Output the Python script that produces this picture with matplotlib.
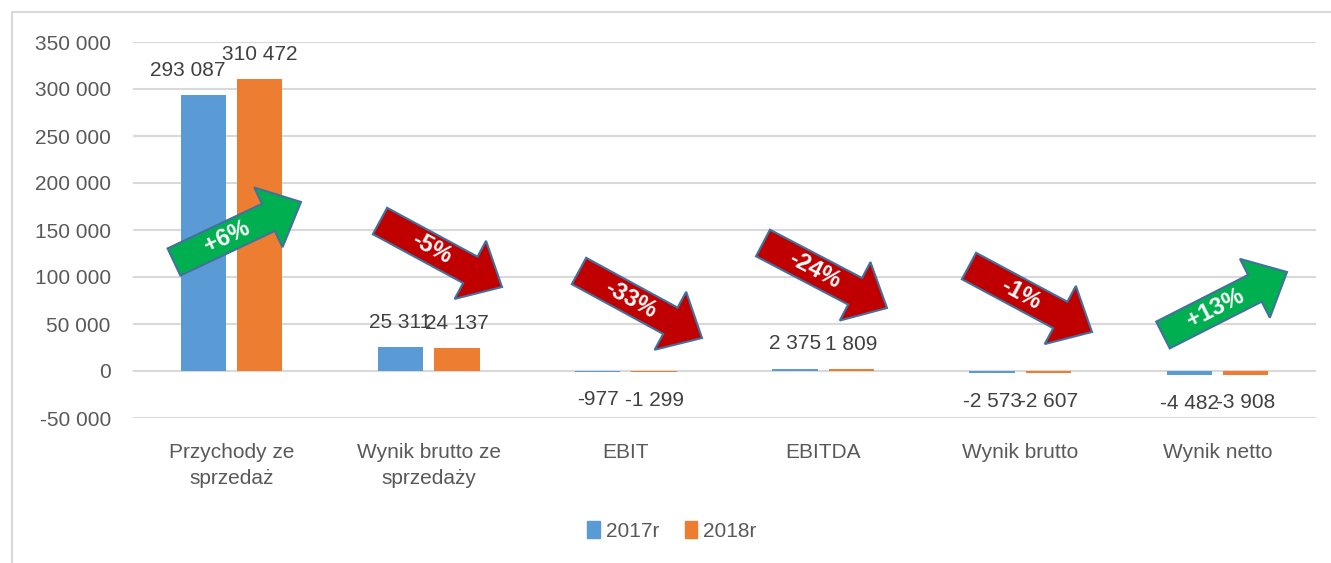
import math

import matplotlib
matplotlib.use("Agg")

import matplotlib.pyplot as plt
from matplotlib.patches import FancyArrow, Rectangle, Patch
from matplotlib.transforms import IdentityTransform

plt.rcParams["font.family"] = ["Liberation Sans", "DejaVu Sans"]

# Dane
kategorie = ["Przychody ze\nsprzedaż", "Wynik brutto ze\nsprzedaży", "EBIT",
             "EBITDA", "Wynik brutto", "Wynik netto"]
lata = ["2017r", "2018r"]
wart_2017 = [293087, 25311, -977, 2375, -2573, -4482]
wart_2018 = [310472, 24137, -1299, 1809, -2607, -3908]
zmiany = ["+6%", "-5%", "-33%", "-24%", "-1%", "+13%"]
y_ticks = [-50000, 0, 50000, 100000, 150000, 200000, 250000, 300000, 350000]

# Strzalki: (ogon x, ogon y, grot x, grot y) w pikselach obrazu (od gory)
strzalki = [
    (174, 262, 301, 202),
    (380, 221, 502, 287),
    (579, 271, 702, 338),
    (763, 243, 887, 308),
    (969, 266, 1092, 332),
    (1163, 335, 1287, 272),
]

W, H = 1331, 563
NIEBIESKI = "#5B9BD5"
POMARANCZ = "#ED7D31"


def fmt(v):
    return f"{v:,}".replace(",", " ")


fig = plt.figure(figsize=(W / 100, H / 100), dpi=100)
ax = fig.add_axes([133 / W, (H - 418) / H, 1183 / W, 376 / H])

x = list(range(len(kategorie)))
szer = 0.23
off = 0.143
b1 = ax.bar([i - off for i in x], wart_2017, szer, color=NIEBIESKI, zorder=2)
b2 = ax.bar([i + off for i in x], wart_2018, szer, color=POMARANCZ, zorder=2)

for seria, wart in ((b1, wart_2017), (b2, wart_2018)):
    for j, (rect, v) in enumerate(zip(seria, wart)):
        dx = -16 if (seria is b1 and j == 0) else 0
        dy = 25 if v >= 0 else -28
        ax.annotate(fmt(v), (rect.get_x() + rect.get_width() / 2, v),
                    xytext=(dx, dy), textcoords="offset pixels",
                    ha="center", va="center", fontsize=15, color="#404040")

ax.set_xlim(-0.5, len(kategorie) - 0.5)
ax.set_ylim(-50000, 350000)
ax.set_yticks(y_ticks)
ax.set_yticklabels([fmt(t) for t in y_ticks])
ax.set_xticks(x)
ax.set_xticklabels(kategorie, linespacing=1.5)
ax.tick_params(axis="y", length=0, pad=16, labelsize=15, labelcolor="#595959")
ax.tick_params(axis="x", length=0, pad=18, labelsize=15, labelcolor="#595959")
ax.grid(axis="y", color="#D9D9D9", linewidth=1.5, zorder=0)
ax.set_axisbelow(True)
for s in ax.spines.values():
    s.set_visible(False)

# ramka wykresu
fig.patches.append(Rectangle((12, -20), W + 40, H - 12 + 20, fill=False,
                             edgecolor="#D9D9D9", linewidth=1.5,
                             transform=IdentityTransform(), figure=fig))

# strzalki ze zmianami procentowymi
for (tx, ty, hx, hy), z in zip(strzalki, zmiany):
    kolor = "#00B050" if z.startswith("+") else "#C00000"
    x0, y0 = tx, H - ty
    ddx, ddy = hx - tx, (H - hy) - y0
    arr = FancyArrow(x0, y0, ddx, ddy, width=30, head_width=66, head_length=36,
                     length_includes_head=True, facecolor=kolor,
                     edgecolor="#41719C", linewidth=1.5,
                     transform=IdentityTransform(), figure=fig, zorder=5)
    fig.patches.append(arr)
    kat = math.degrees(math.atan2(ddy, ddx))
    fig.text(x0 + ddx * 0.42, y0 + ddy * 0.42, z, transform=IdentityTransform(),
             rotation=kat, rotation_mode="anchor", ha="center", va="center",
             color="white", fontsize=17, fontweight="bold", zorder=6)

fig.legend(handles=[Patch(color=NIEBIESKI, label=lata[0]),
                    Patch(color=POMARANCZ, label=lata[1])],
           loc="center", bbox_to_anchor=(672 / W, (H - 531) / H), ncol=2,
           frameon=False, fontsize=15, handlelength=0.6, handleheight=0.9,
           handletextpad=0.3, columnspacing=1.2, labelcolor="#595959")

fig.savefig("out.png", dpi=100)
